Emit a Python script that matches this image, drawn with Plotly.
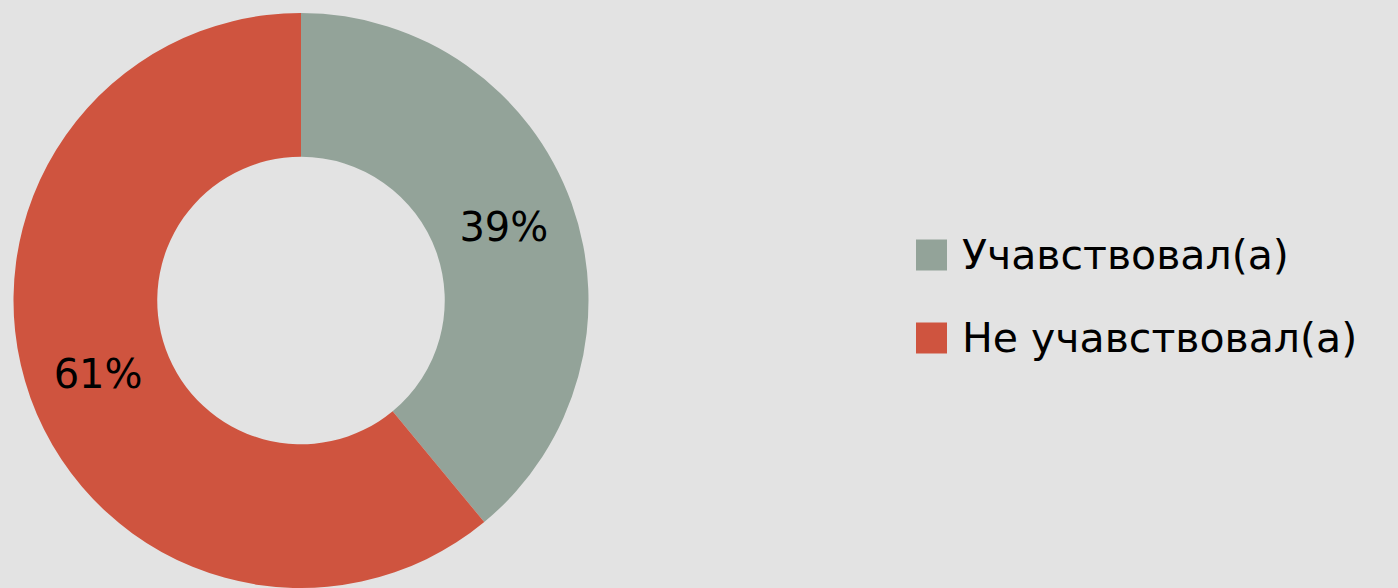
import plotly.graph_objects as go

labels = ["Учавствовал(а)", "Не учавствовал(а)"]
values = [39, 61]
colors = ["#93a399", "#cf543f"]

W, H = 1398, 588
top_m = 13
BG = "#e3e3e3"

fig = go.Figure(go.Pie(
    labels=labels,
    values=values,
    hole=0.5,
    sort=False,
    direction="clockwise",
    rotation=0,
    marker=dict(colors=colors, line=dict(width=0)),
    textinfo="percent",
    texttemplate="%{percent:.0%}",
    textposition="inside",
    insidetextorientation="horizontal",
    textfont=dict(family="DejaVu Sans", size=40, color="#000000"),
    domain=dict(x=[0, 602 / W], y=[0, 1]),
    showlegend=False,
    hoverinfo="label+percent",
))

# manual legend with large swatches
plot_h = H - top_m
def py(pix):
    return (H - pix) / plot_h

row_centers = [255, 338]
for lab, col, yc in zip(labels, colors, row_centers):
    fig.add_shape(type="rect", xref="paper", yref="paper",
                  x0=916 / W, x1=947 / W, y0=py(yc + 15.5), y1=py(yc - 15.5),
                  fillcolor=col, line=dict(width=0))
    fig.add_annotation(xref="paper", yref="paper", x=960 / W, y=py(yc),
                       xanchor="left", yanchor="middle", text=lab, showarrow=False,
                       font=dict(family="DejaVu Sans", size=41, color="#000000"))

fig.update_layout(
    width=W, height=H,
    margin=dict(l=0, r=0, t=top_m, b=0),
    paper_bgcolor=BG,
    plot_bgcolor=BG,
)

fig.write_html(
    "out.html",
    config={"displayModeBar": False},
    post_script="document.body.style.margin='0';document.body.style.background='%s';"
                "document.documentElement.style.background='%s';" % (BG, BG),
)
